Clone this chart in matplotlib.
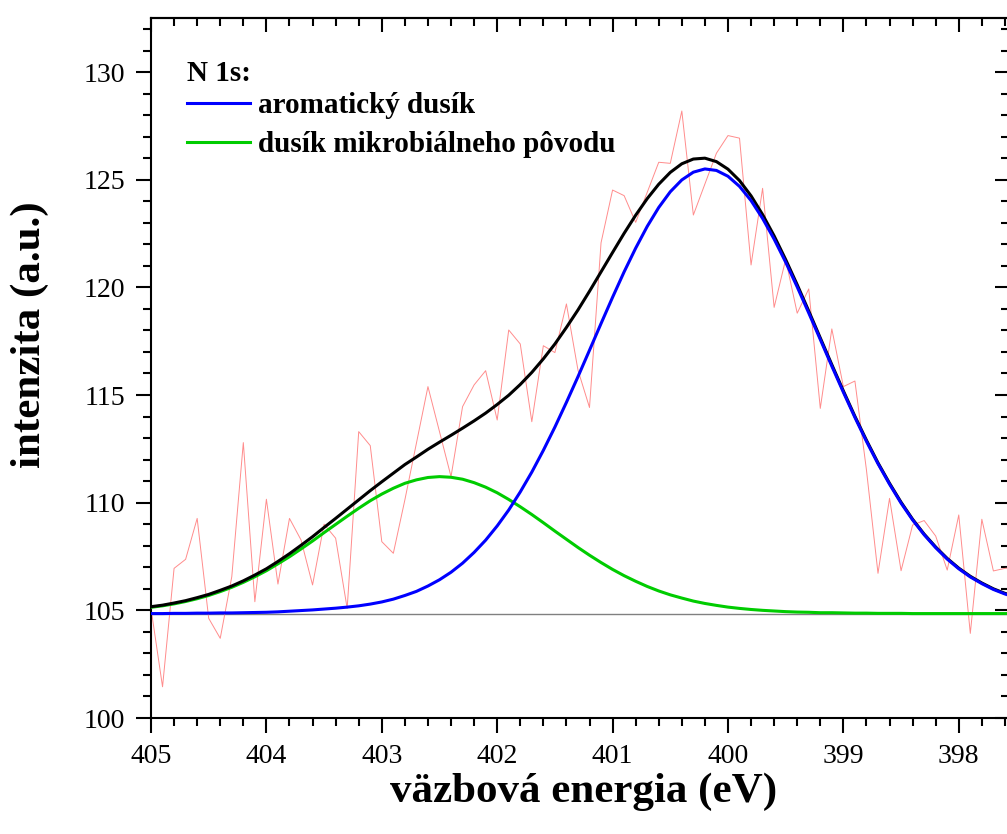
import matplotlib
matplotlib.use("Agg")
from matplotlib import pyplot as plt
from matplotlib.lines import Line2D
from matplotlib.ticker import MultipleLocator

# binding energy grid (eV)
energy = [405.0, 404.9, 404.8, 404.7, 404.6, 404.5, 404.4, 404.3, 404.2, 404.1,
          404.0, 403.9, 403.8, 403.7, 403.6, 403.5, 403.4, 403.3, 403.2, 403.1,
          403.0, 402.9, 402.8, 402.7, 402.6, 402.5, 402.4, 402.3, 402.2, 402.1,
          402.0, 401.9, 401.8, 401.7, 401.6, 401.5, 401.4, 401.3, 401.2, 401.1,
          401.0, 400.9, 400.8, 400.7, 400.6, 400.5, 400.4, 400.3, 400.2, 400.1,
          400.0, 399.9, 399.8, 399.7, 399.6, 399.5, 399.4, 399.3, 399.2, 399.1,
          399.0, 398.9, 398.8, 398.7, 398.6, 398.5, 398.4, 398.3, 398.2, 398.1,
          398.0, 397.9, 397.8, 397.7, 397.6, 397.5]

# measured spectrum (thin red line)
measured = [105.09, 101.45, 106.95, 107.37, 109.27, 104.63, 103.70, 106.56, 112.79, 105.40,
            110.16, 106.22, 109.27, 108.27, 106.18, 109.00, 108.35, 105.09, 113.30, 112.65,
            108.19, 107.65, 110.13, 112.76, 115.39, 113.30, 111.21, 114.46, 115.47, 116.13,
            113.84, 118.02, 117.37, 113.76, 117.29, 116.97, 119.23, 116.16, 114.42, 122.07,
            124.52, 124.26, 123.02, 124.41, 125.81, 125.76, 128.19, 123.36, 124.80, 126.23,
            127.05, 126.93, 121.04, 124.60, 119.07, 121.30, 118.80, 119.93, 114.38, 118.07,
            115.39, 115.65, 111.52, 106.72, 110.20, 106.84, 108.96, 109.17, 108.45, 106.87,
            109.43, 103.93, 109.23, 106.83, 106.95, 107.00]

# fitted components
aromatic = [104.85, 104.85, 104.86, 104.86, 104.87, 104.87, 104.88, 104.88, 104.89, 104.90,
            104.91, 104.93, 104.96, 104.99, 105.02, 105.06, 105.10, 105.15, 105.21, 105.29,
            105.39, 105.52, 105.69, 105.88, 106.13, 106.42, 106.77, 107.19, 107.69, 108.26,
            108.92, 109.66, 110.50, 111.42, 112.43, 113.51, 114.66, 115.85, 117.08, 118.32,
            119.54, 120.72, 121.82, 122.83, 123.71, 124.44, 124.99, 125.35, 125.50, 125.43,
            125.16, 124.69, 124.03, 123.20, 122.24, 121.17, 120.02, 118.81, 117.58, 116.34,
            115.13, 113.96, 112.85, 111.81, 110.86, 109.98, 109.20, 108.51, 107.91, 107.38,
            106.93, 106.55, 106.24, 105.97, 105.76, 105.59]

microbial = [105.14, 105.21, 105.30, 105.41, 105.54, 105.69, 105.87, 106.07, 106.30, 106.56,
             106.84, 107.16, 107.49, 107.85, 108.22, 108.61, 108.99, 109.37, 109.74, 110.09,
             110.40, 110.67, 110.90, 111.06, 111.17, 111.21, 111.18, 111.09, 110.93, 110.72,
             110.46, 110.15, 109.81, 109.45, 109.07, 108.68, 108.30, 107.92, 107.56, 107.22,
             106.90, 106.61, 106.35, 106.11, 105.90, 105.72, 105.57, 105.43, 105.32, 105.23,
             105.15, 105.09, 105.04, 105.00, 104.97, 104.94, 104.92, 104.91, 104.89, 104.89,
             104.88, 104.87, 104.87, 104.86, 104.86, 104.86, 104.85, 104.85, 104.85, 104.85,
             104.85, 104.85, 104.85, 104.85, 104.85, 104.85]

envelope = [105.17, 105.24, 105.34, 105.45, 105.59, 105.74, 105.93, 106.13, 106.37, 106.64,
            106.93, 107.27, 107.63, 108.02, 108.42, 108.85, 109.27, 109.70, 110.13, 110.56,
            110.97, 111.37, 111.77, 112.12, 112.48, 112.81, 113.13, 113.46, 113.80, 114.16,
            114.56, 114.99, 115.49, 116.05, 116.68, 117.37, 118.14, 118.95, 119.82, 120.72,
            121.62, 122.51, 123.35, 124.12, 124.79, 125.34, 125.74, 125.96, 126.00, 125.84,
            125.49, 124.96, 124.25, 123.38, 122.39, 121.29, 120.12, 118.90, 117.65, 116.41,
            115.19, 114.01, 112.90, 111.85, 110.90, 110.02, 109.23, 108.54, 107.94, 107.41,
            106.96, 106.58, 106.27, 106.00, 105.79, 105.62]

baseline = 104.82
labels = ["aromatický dusík", "dusík mikrobiálneho pôvodu"]

plt.rcParams["font.family"] = ["Liberation Serif", "DejaVu Serif"]

fig = plt.figure(figsize=(10.07, 8.34), dpi=100)
ax = fig.add_axes([151 / 1007, 116 / 834, 857.5 / 1007, 700 / 834])

ax.axhline(baseline, color="#808080", lw=1.0, zorder=1)
ax.plot(energy, measured, color="#ff8c8c", lw=0.7, zorder=2)
ax.plot(energy, microbial, color="#00cc00", lw=2.2, zorder=3)
ax.plot(energy, envelope, color="black", lw=2.2, zorder=4)
ax.plot(energy, aromatic, color="#0000ff", lw=2.2, zorder=5)

ax.set_xlim(405, 397.569)
ax.set_ylim(100, 132.51)

ax.xaxis.set_major_locator(MultipleLocator(1))
ax.xaxis.set_minor_locator(MultipleLocator(0.2))
ax.yaxis.set_major_locator(MultipleLocator(5))
ax.yaxis.set_minor_locator(MultipleLocator(1))
ax.tick_params(which="both", direction="out", width=1.5, labelsize=20, pad=8)
ax.tick_params(which="major", length=10.5)
ax.tick_params(which="minor", length=5.5)
for sp in ax.spines.values():
    sp.set_linewidth(1.5)

# top and right axes carry inward ticks only
top = ax.secondary_xaxis("top")
top.xaxis.set_major_locator(MultipleLocator(1))
top.xaxis.set_minor_locator(MultipleLocator(0.2))
right = ax.secondary_yaxis("right")
right.yaxis.set_major_locator(MultipleLocator(5))
right.yaxis.set_minor_locator(MultipleLocator(1))
for sec in (top, right):
    sec.tick_params(which="both", direction="in", width=1.5,
                    labeltop=False, labelright=False)
    sec.tick_params(which="major", length=10)
    sec.tick_params(which="minor", length=5.5)
    for sp in sec.spines.values():
        sp.set_linewidth(1.5)

ax.set_xlabel("väzbová energia (eV)", fontsize=31, fontweight="bold")
ax.xaxis.set_label_coords(0.505, -0.078)
ax.set_ylabel("intenzita (a.u.)", fontsize=31, fontweight="bold")
ax.yaxis.set_label_coords(-0.119, 0.547)

ax.text(0.042, 0.910, "N 1s:", transform=ax.transAxes, fontsize=21,
        fontweight="bold", ha="left", va="baseline")
handles = [Line2D([], [], color="#0000ff", lw=2.2),
           Line2D([], [], color="#00cc00", lw=2.2)]
ax.legend(handles, labels, loc="center left",
          bbox_to_anchor=(0.042, 0.847), frameon=False,
          prop={"weight": "bold", "size": 21},
          handlelength=2.16, handletextpad=0.27,
          borderpad=0, borderaxespad=0, labelspacing=0.43)

fig.savefig("out.png", dpi=100)
plt.close(fig)
